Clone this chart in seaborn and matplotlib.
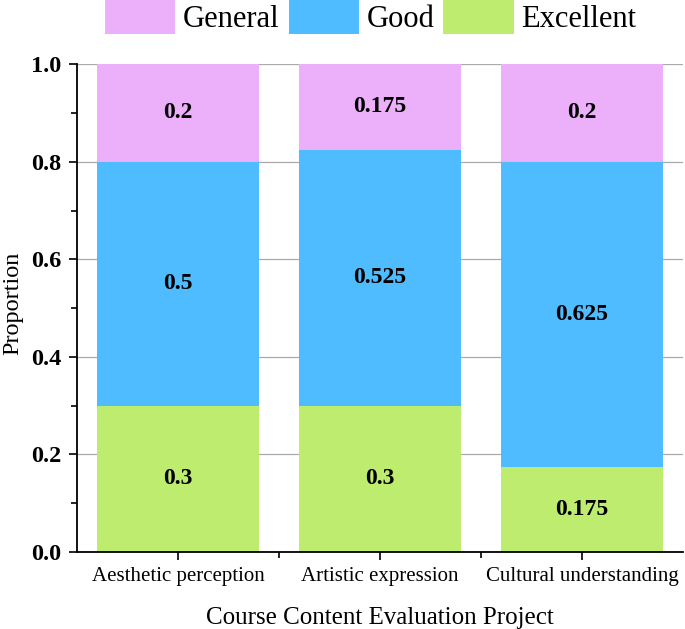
import numpy as np
import pandas as pd
import matplotlib
matplotlib.use("Agg")
import matplotlib.pyplot as plt
import seaborn as sns
from matplotlib.patches import Patch
from matplotlib.ticker import MultipleLocator

categories = ["Aesthetic perception", "Artistic expression", "Cultural understanding"]
excellent = [0.3, 0.3, 0.175]
good = [0.5, 0.525, 0.625]
general = [0.2, 0.175, 0.2]
series_names = ["General", "Good", "Excellent"]
colors = {"General": "#EBB0F9", "Good": "#4FBCFF", "Excellent": "#BDEC6F"}

sns.set_theme(style="white")
plt.rcParams["font.family"] = ["Liberation Serif", "DejaVu Serif"]
plt.rcParams["text.color"] = "black"
plt.rcParams["axes.labelcolor"] = "black"
plt.rcParams["xtick.color"] = "black"
plt.rcParams["ytick.color"] = "black"

df = pd.DataFrame({"cat": categories, "Excellent": excellent, "Good": good, "General": general})
df["top_good"] = df["Excellent"] + df["Good"]
df["top_general"] = df["top_good"] + df["General"]

fig = plt.figure(figsize=(6.85, 6.29), dpi=100)
ax = fig.add_axes([0.1124, 0.1224, 0.8846, 0.7756])

ax.set_axisbelow(True)
ax.yaxis.grid(True, color="#aaaaaa", linewidth=0.9)

for col, name in [("top_general", "General"), ("top_good", "Good"), ("Excellent", "Excellent")]:
    sns.barplot(data=df, x="cat", y=col, color=colors[name], width=0.8, ax=ax,
                saturation=1, zorder=2, linewidth=0, edgecolor="none")

for i in range(len(categories)):
    segs = [(0, excellent[i]), (excellent[i], good[i]), (excellent[i] + good[i], general[i])]
    for b, h in segs:
        ax.text(i, b + h / 2, f"{h:g}", ha="center", va="center", fontsize=17,
                fontweight="bold", color="black", zorder=5)

ax.set_xlim(-0.5, 2.5)
ax.set_ylim(0, 1.0)
ax.yaxis.set_minor_locator(MultipleLocator(0.1))
ax.set_yticks([0, 0.2, 0.4, 0.6, 0.8, 1.0])
ax.set_yticklabels(["0.0", "0.2", "0.4", "0.6", "0.8", "1.0"])
ax.set_xticks([0, 1, 2])
ax.set_xticklabels(categories)
ax.set_xticks([0.5, 1.5], minor=True)
ax.tick_params(axis="y", which="major", direction="out", length=6, width=1.2, labelsize=17.5, left=True, pad=5)
ax.tick_params(axis="y", which="minor", direction="out", length=4, width=1.2, left=True)
ax.tick_params(axis="x", which="major", direction="out", length=6, width=1.2, labelsize=15, bottom=True, pad=5)
ax.tick_params(axis="x", which="minor", direction="out", length=4, width=1.2, bottom=True)
for lab in ax.get_yticklabels():
    lab.set_fontweight("bold")

for s in ["top", "right"]:
    ax.spines[s].set_visible(False)
for s in ["left", "bottom"]:
    ax.spines[s].set_color("black")
    ax.spines[s].set_linewidth(1.3)

ax.set_xlabel("Course Content Evaluation Project", fontsize=18, labelpad=15)
ax.set_ylabel("Proportion", fontsize=17.5)
ax.yaxis.set_label_coords(-0.089, 0.51)

handles = [Patch(facecolor=colors[n], edgecolor="none") for n in series_names]
fig.legend(handles, series_names, loc="upper center", bbox_to_anchor=(0.541, 1.0), ncol=3,
           frameon=False, fontsize=22, handlelength=2.3, handleheight=1.35, columnspacing=0.3,
           handletextpad=0.25, borderaxespad=0, borderpad=0)

fig.savefig("out.png", dpi=100)
